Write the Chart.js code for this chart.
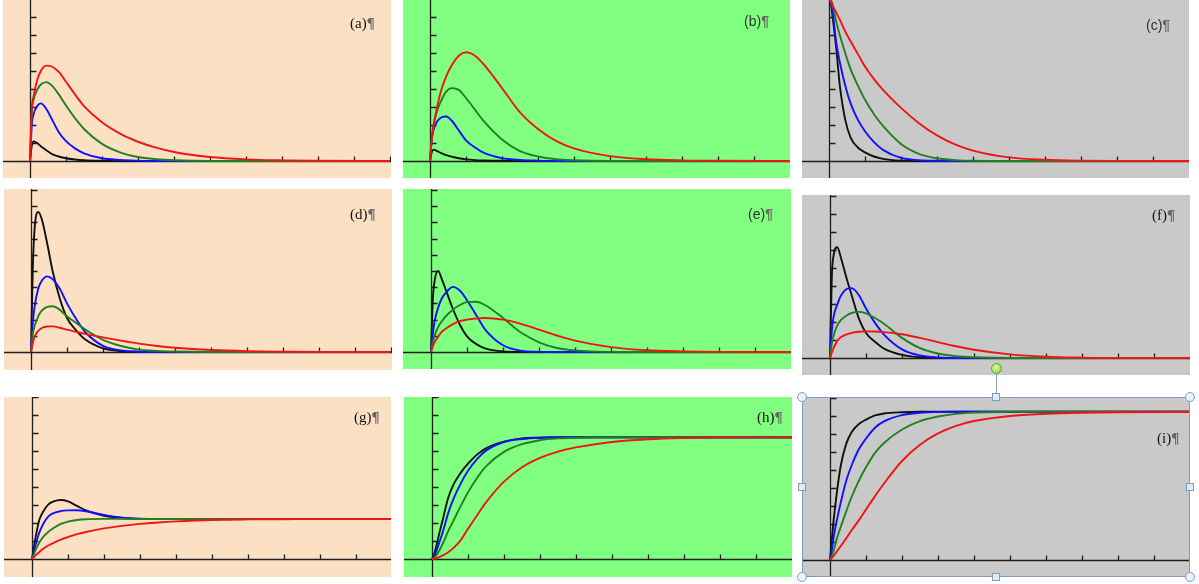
<!DOCTYPE html>
<html>
<head>
<meta charset="utf-8">
<script src="https://cdn.jsdelivr.net/npm/chart.js@4.4.1/dist/chart.umd.min.js"></script>
<style>
  body { margin: 0; background: #fff; width: 1199px; height: 584px; overflow: hidden; position: relative; }
  .panel { position: absolute; }
  .panel canvas { position: absolute; left: 0; top: 0; }
  .lbl { position: absolute; line-height: 15px; color: #111; white-space: nowrap; }
  .lbl .p { color: #666; font-weight: bold; }
  .serif { font-family: "Liberation Serif", "DejaVu Serif", serif; font-size: 15px; }
  .sans { font-family: "Liberation Sans", "DejaVu Sans", sans-serif; font-size: 14px; color: #333; }
  #sel { position: absolute; left: 802px; top: 397px; width: 388px; height: 180px; border: 1px solid #7f9cbf; box-sizing: border-box; pointer-events: none; }
  .hc { position: absolute; width: 10px; height: 10px; border-radius: 50%; border: 1px solid #7f9cbf; background: #e9f3fb; box-sizing: border-box; }
  .hs { position: absolute; width: 8px; height: 8px; border: 1px solid #7f9cbf; background: #dcecf8; box-sizing: border-box; }
</style>
</head>
<body>
<script>
// sample positions along x (in x-tick units), shared by all panels
const xs = [0, 0.05, 0.1, 0.2, 0.3, 0.45, 0.6, 0.8, 1, 1.25, 1.5, 2, 2.5, 3, 3.5, 4, 5, 6, 7, 8, 10];
const xTicks = [1, 2, 3, 4, 5, 6, 7, 8, 9, 10];
const yTicks = [1, 2, 3, 4, 5, 6, 7, 8, 9, 10];

// (a)
const aBlack = [0, 0.85, 1.08, 1.0, 0.82, 0.6, 0.4, 0.25, 0.15, 0.08, 0.04, 0.01, 0, 0, 0, 0, 0, 0, 0, 0, 0];
const aBlue  = [0, 2.0, 2.6, 3.05, 3.2, 2.9, 2.35, 1.6, 1.1, 0.7, 0.43, 0.15, 0.06, 0.02, 0, 0, 0, 0, 0, 0, 0];
const aGreen = [0, 2.7, 3.4, 3.95, 4.25, 4.38, 4.2, 3.7, 3.08, 2.38, 1.78, 0.95, 0.48, 0.22, 0.1, 0.04, 0, 0, 0, 0, 0];
const aRed   = [0, 2.9, 3.6, 4.5, 5.0, 5.3, 5.25, 4.95, 4.4, 3.7, 3.05, 2.15, 1.52, 1.07, 0.74, 0.5, 0.22, 0.09, 0.035, 0.01, 0];
// (b)
const bBlack = [0, 0.5, 0.63, 0.55, 0.45, 0.33, 0.24, 0.15, 0.09, 0.05, 0.03, 0.01, 0, 0, 0, 0, 0, 0, 0, 0, 0];
const bBlue  = [0, 1.2, 1.75, 2.2, 2.4, 2.47, 2.25, 1.7, 1.15, 0.75, 0.45, 0.16, 0.06, 0.02, 0, 0, 0, 0, 0, 0, 0];
const bGreen = [0, 1.25, 2.0, 2.8, 3.3, 3.85, 4.05, 3.95, 3.5, 2.85, 2.2, 1.2, 0.55, 0.25, 0.1, 0.04, 0, 0, 0, 0, 0];
const bRed   = [0, 1.25, 2.0, 3.0, 3.85, 4.7, 5.3, 5.85, 6.04, 5.85, 5.35, 4.05, 2.7, 1.78, 1.12, 0.7, 0.27, 0.1, 0.035, 0.01, 0];
// (c)
const cBlack = [9, 8.8, 8.0, 6.3, 4.2, 2.3, 1.3, 0.75, 0.48, 0.25, 0.12, 0.02, 0, 0, 0, 0, 0, 0, 0, 0, 0];
const cBlue  = [9, 8.85, 8.3, 6.6, 5.5, 4.2, 3.2, 2.3, 1.65, 1.05, 0.62, 0.17, 0.05, 0.01, 0, 0, 0, 0, 0, 0, 0];
const cGreen = [9, 8.95, 8.7, 7.75, 7.0, 6.0, 5.1, 4.2, 3.4, 2.6, 1.95, 0.95, 0.4, 0.15, 0.05, 0.01, 0, 0, 0, 0, 0];
const cRed   = [9, 8.85, 8.65, 8.25, 7.85, 7.2, 6.65, 5.95, 5.25, 4.55, 3.95, 2.95, 2.1, 1.42, 0.92, 0.58, 0.2, 0.07, 0.02, 0.005, 0];
// (d)
const dBlack = [0, 5.2, 7.6, 8.65, 8.2, 6.7, 5.0, 3.3, 2.1, 1.35, 0.78, 0.22, 0.05, 0.01, 0, 0, 0, 0, 0, 0, 0];
const dBlue  = [0, 1.8, 2.8, 3.9, 4.4, 4.67, 4.5, 3.9, 3.0, 2.05, 1.25, 0.38, 0.1, 0.02, 0, 0, 0, 0, 0, 0, 0];
const dGreen = [0, 1.1, 1.6, 2.2, 2.55, 2.78, 2.82, 2.6, 2.2, 1.8, 1.4, 0.75, 0.37, 0.15, 0.07, 0.03, 0, 0, 0, 0, 0];
const dRed   = [0, 0.55, 0.95, 1.3, 1.48, 1.57, 1.58, 1.5, 1.38, 1.25, 1.12, 0.9, 0.7, 0.52, 0.37, 0.26, 0.12, 0.05, 0.02, 0, 0];
// (e)
const eBlack = [0, 3.2, 4.4, 5.0, 4.5, 3.6, 2.7, 1.7, 0.97, 0.5, 0.22, 0.03, 0, 0, 0, 0, 0, 0, 0, 0, 0];
const eBlue  = [0, 1.1, 1.9, 2.75, 3.3, 3.75, 4.02, 3.8, 3.2, 2.3, 1.4, 0.42, 0.08, 0.01, 0, 0, 0, 0, 0, 0, 0];
const eGreen = [0, 0.6, 1.0, 1.55, 1.9, 2.3, 2.6, 2.9, 3.08, 3.1, 2.9, 2.1, 1.2, 0.6, 0.25, 0.1, 0.01, 0, 0, 0, 0];
const eRed   = [0, 0.35, 0.6, 0.95, 1.25, 1.5, 1.7, 1.9, 2.0, 2.07, 2.1, 2.0, 1.74, 1.38, 1.02, 0.7, 0.3, 0.11, 0.04, 0.01, 0];
// (f)
const fBlack = [0, 4.5, 5.7, 6.15, 5.6, 4.5, 3.5, 2.2, 1.39, 0.9, 0.52, 0.17, 0.04, 0, 0, 0, 0, 0, 0, 0, 0];
const fBlue  = [0, 1.5, 2.3, 2.95, 3.45, 3.82, 3.88, 3.5, 2.75, 1.95, 1.3, 0.48, 0.14, 0.03, 0, 0, 0, 0, 0, 0, 0];
const fGreen = [0, 0.8, 1.25, 1.8, 2.1, 2.35, 2.5, 2.56, 2.48, 2.22, 1.9, 1.12, 0.55, 0.25, 0.1, 0.04, 0, 0, 0, 0, 0];
const fRed   = [0, 0.3, 0.55, 0.95, 1.15, 1.3, 1.4, 1.46, 1.48, 1.47, 1.44, 1.32, 1.12, 0.88, 0.65, 0.46, 0.2, 0.07, 0.02, 0, 0];
// (g)
const gBlack = [0, 0.6, 1.2, 2.15, 2.6, 3.02, 3.2, 3.28, 3.2, 2.95, 2.7, 2.4, 2.28, 2.23, 2.22, 2.22, 2.22, 2.22, 2.22, 2.22, 2.22];
const gBlue  = [0, 0.4, 0.8, 1.45, 1.9, 2.35, 2.55, 2.66, 2.7, 2.71, 2.65, 2.45, 2.3, 2.24, 2.22, 2.22, 2.22, 2.22, 2.22, 2.22, 2.22];
const gGreen = [0, 0.25, 0.5, 0.9, 1.2, 1.5, 1.72, 1.95, 2.08, 2.17, 2.21, 2.23, 2.23, 2.22, 2.22, 2.22, 2.22, 2.22, 2.22, 2.22, 2.22];
const gRed   = [0, 0.1, 0.2, 0.38, 0.55, 0.75, 0.9, 1.08, 1.22, 1.38, 1.5, 1.7, 1.84, 1.95, 2.03, 2.09, 2.17, 2.2, 2.21, 2.22, 2.22];
// (h)
const hBlack = [0, 0.2, 0.55, 1.4, 2.2, 3.4, 4.15, 4.8, 5.3, 5.8, 6.15, 6.52, 6.7, 6.74, 6.76, 6.76, 6.76, 6.76, 6.76, 6.76, 6.76];
const hBlue  = [0, 0.1, 0.3, 0.9, 1.5, 2.55, 3.35, 4.2, 4.9, 5.55, 6.02, 6.5, 6.67, 6.74, 6.76, 6.76, 6.76, 6.76, 6.76, 6.76, 6.76];
const hGreen = [0, 0.05, 0.15, 0.45, 0.85, 1.55, 2.15, 2.95, 3.7, 4.5, 5.15, 5.95, 6.38, 6.6, 6.7, 6.74, 6.76, 6.76, 6.76, 6.76, 6.76];
const hRed   = [0, 0.01, 0.03, 0.1, 0.2, 0.38, 0.62, 1.05, 1.68, 2.42, 3.15, 4.3, 5.1, 5.62, 5.97, 6.2, 6.5, 6.65, 6.72, 6.75, 6.76];
// (i)
const iBlack = [0, 1.1, 2.2, 3.9, 5.25, 6.45, 7.1, 7.55, 7.8, 8.03, 8.14, 8.21, 8.24, 8.24, 8.24, 8.24, 8.24, 8.24, 8.24, 8.24, 8.24];
const iBlue  = [0, 0.5, 1.25, 2.3, 3.2, 4.4, 5.25, 6.15, 6.75, 7.35, 7.7, 8.05, 8.18, 8.23, 8.24, 8.24, 8.24, 8.24, 8.24, 8.24, 8.24];
const iGreen = [0, 0.2, 0.5, 1.25, 1.85, 2.7, 3.5, 4.4, 5.15, 5.95, 6.5, 7.25, 7.72, 7.97, 8.12, 8.19, 8.23, 8.24, 8.24, 8.24, 8.24];
const iRed   = [0, 0.1, 0.22, 0.5, 0.78, 1.2, 1.65, 2.2, 2.8, 3.55, 4.25, 5.5, 6.4, 7.03, 7.45, 7.72, 8.0, 8.12, 8.18, 8.21, 8.22];

const PEACH = '#fce0c4', GREEN = '#80ff80', GREY = '#c9c9c9';
const lineColors = ['#111111', '#1010ff', '#1f801f', '#f01414'];

// layout of the nine panels: box, axis origin inside the box, pixels per tick
const panels = [
  { name: '(a)', series: [aBlack, aBlue, aGreen, aRed], left: 3,   top: 0,   w: 388, h: 178, ox: 27, oy: 161, yu: 18,   bg: PEACH, font: 'serif', lx: 350,  ly: 16 },
  { name: '(b)', series: [bBlack, bBlue, bGreen, bRed], left: 403, top: 0,   w: 387, h: 178, ox: 27, oy: 161, yu: 18,   bg: GREEN, font: 'sans',  lx: 744,  ly: 14 },
  { name: '(c)', series: [cBlack, cBlue, cGreen, cRed], left: 802, top: 0,   w: 387, h: 178, ox: 27, oy: 161, yu: 18,   bg: GREY,  font: 'sans',  lx: 1146, ly: 18 },
  { name: '(d)', series: [dBlack, dBlue, dGreen, dRed], left: 4,   top: 189, w: 388, h: 181, ox: 27, oy: 163, yu: 16.2, bg: PEACH, font: 'serif', lx: 350,  ly: 207 },
  { name: '(e)', series: [eBlack, eBlue, eGreen, eRed], left: 403, top: 189, w: 388, h: 180, ox: 28, oy: 163, yu: 16.2, bg: GREEN, font: 'sans',  lx: 748,  ly: 207 },
  { name: '(f)', series: [fBlack, fBlue, fGreen, fRed], left: 802, top: 195, w: 388, h: 180, ox: 28, oy: 163, yu: 18,   bg: GREY,  font: 'serif', lx: 1152, ly: 208 },
  { name: '(g)', series: [gBlack, gBlue, gGreen, gRed], left: 4,   top: 397, w: 387, h: 180, ox: 28, oy: 162, yu: 18,   bg: PEACH, font: 'serif', lx: 354,  ly: 410 },
  { name: '(h)', series: [hBlack, hBlue, hGreen, hRed], left: 404, top: 397, w: 388, h: 180, ox: 28, oy: 162, yu: 18,   bg: GREEN, font: 'serif', lx: 757,  ly: 410 },
  { name: '(i)', series: [iBlack, iBlue, iGreen, iRed], left: 802, top: 397, w: 388, h: 180, ox: 28, oy: 163, yu: 18,   bg: GREY,  font: 'serif', lx: 1157, ly: 431 }
];

// axes crossing at the origin, with tick marks on the inner side
const crossAxes = {
  id: 'crossAxes',
  beforeDatasetsDraw(chart) {
    const { ctx, width, height } = chart;
    const x = chart.scales.x, y = chart.scales.y;
    const x0 = Math.round(x.getPixelForValue(0)) + 0.5;
    const y0 = Math.round(y.getPixelForValue(0)) + 0.5;
    ctx.save();
    ctx.strokeStyle = '#1e1e1e';
    ctx.lineWidth = 1.3;
    ctx.beginPath();
    ctx.moveTo(0, y0); ctx.lineTo(width, y0);
    ctx.moveTo(x0, 0); ctx.lineTo(x0, height);
    xTicks.forEach(t => {
      const px = Math.round(x.getPixelForValue(t)) + 0.5;
      if (px < width) { ctx.moveTo(px, y0); ctx.lineTo(px, y0 - 5); }
    });
    yTicks.forEach(t => {
      const py = Math.round(y.getPixelForValue(t)) + 0.5;
      if (py > 0) { ctx.moveTo(x0, py); ctx.lineTo(x0 + 6, py); }
    });
    ctx.stroke();
    ctx.restore();
  }
};

panels.forEach(p => {
  const box = document.createElement('div');
  box.className = 'panel';
  box.style.cssText = `left:${p.left}px;top:${p.top}px;width:${p.w}px;height:${p.h}px;background:${p.bg}`;
  const cv = document.createElement('canvas');
  cv.width = p.w; cv.height = p.h;
  box.appendChild(cv);
  document.body.appendChild(box);

  new Chart(cv.getContext('2d'), {
    type: 'line',
    data: {
      datasets: p.series.map((ys, k) => ({
        data: xs.map((v, i) => ({ x: v, y: ys[i] })),
        borderColor: lineColors[k],
        borderWidth: 1.9,
        pointRadius: 0,
        cubicInterpolationMode: 'monotone',
        fill: false
      })).reverse()
    },
    options: {
      responsive: false,
      animation: false,
      events: [],
      layout: { padding: 0 },
      plugins: { legend: { display: false }, tooltip: { enabled: false } },
      scales: {
        x: { type: 'linear', display: false, min: -p.ox / 36, max: (p.w - p.ox) / 36 },
        y: { type: 'linear', display: false, min: -(p.h - p.oy) / p.yu, max: p.oy / p.yu }
      }
    },
    plugins: [crossAxes]
  });

  const lbl = document.createElement('div');
  lbl.className = 'lbl ' + p.font;
  lbl.style.left = p.lx + 'px';
  lbl.style.top = p.ly + 'px';
  lbl.innerHTML = p.name + '<span class="p">¶</span>';
  document.body.appendChild(lbl);
});

// selection frame around panel (i)
const sel = document.createElement('div');
sel.id = 'sel';
document.body.appendChild(sel);
const fx = [802, 996, 1190], fy = [397, 487, 577];
fx.forEach((hx, a) => fy.forEach((hy, b) => {
  if (a === 1 && b === 1) return;
  const corner = a !== 1 && b !== 1;
  const d = document.createElement('div');
  d.className = corner ? 'hc' : 'hs';
  const s = corner ? 10 : 8;
  d.style.left = (hx - s / 2) + 'px';
  d.style.top = (hy - s / 2) + 'px';
  document.body.appendChild(d);
}));
const stem = document.createElement('div');
stem.style.cssText = 'position:absolute;left:996px;top:373px;width:1px;height:20px;background:#7f9cbf';
document.body.appendChild(stem);
const knob = document.createElement('div');
knob.style.cssText = 'position:absolute;left:991px;top:363px;width:11px;height:11px;border-radius:50%;border:1px solid #6a9a3a;box-sizing:border-box;background:radial-gradient(circle at 40% 35%, #d8ff9a, #7ccf2a)';
document.body.appendChild(knob);
</script>
</body>
</html>
